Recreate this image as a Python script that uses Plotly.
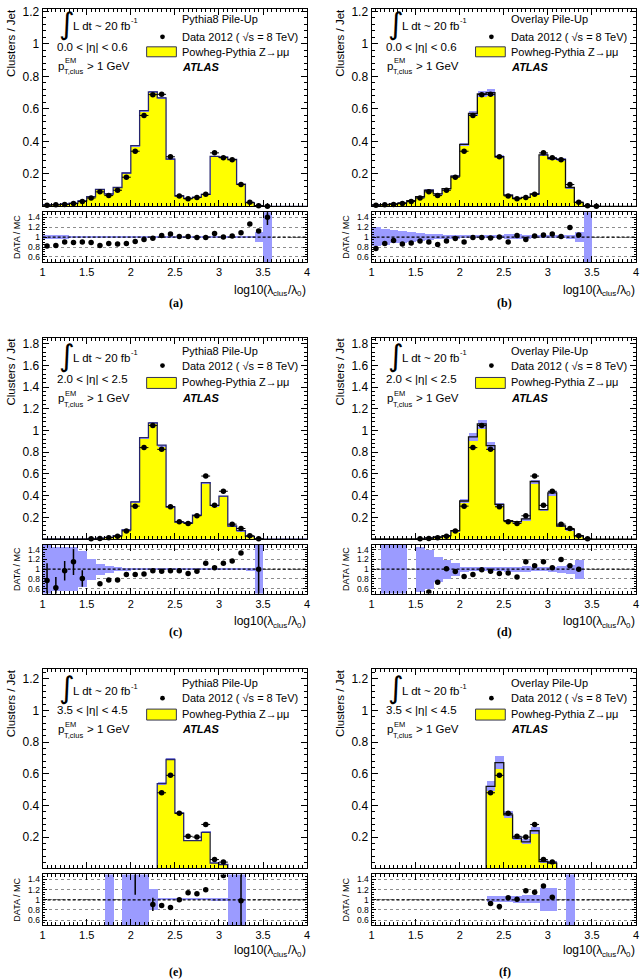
import plotly.graph_objects as go

W, H = 643, 979
N = None

# ---- binning (30 bins of 0.1 from 1 to 4) ----
bin_edges = [1.0, 1.1, 1.2, 1.3, 1.4, 1.5, 1.6, 1.7, 1.8, 1.9, 2.0, 2.1, 2.2, 2.3, 2.4, 2.5,
             2.6, 2.7, 2.8, 2.9, 3.0, 3.1, 3.2, 3.3, 3.4, 3.5, 3.6, 3.7, 3.8, 3.9, 4.0]
bin_centers = [1.05, 1.15, 1.25, 1.35, 1.45, 1.55, 1.65, 1.75, 1.85, 1.95, 2.05, 2.15, 2.25, 2.35, 2.45,
               2.55, 2.65, 2.75, 2.85, 2.95, 3.05, 3.15, 3.25, 3.35, 3.45, 3.55, 3.65, 3.75, 3.85, 3.95]

# ---- 0.0 < |eta| < 0.6 ----
data_central = [0.008, 0.010, 0.013, 0.018, 0.031, 0.052, 0.090, 0.067, 0.100, 0.180,
                0.340, 0.560, 0.688, 0.690, 0.306, 0.065, 0.047, 0.055, 0.075, 0.330,
                0.300, 0.288, 0.135, 0.026, 0.005, 0.002, N, N, N, N]
mc_pythia_central = [0.010, 0.012, 0.015, 0.020, 0.035, 0.060, 0.105, 0.077, 0.117, 0.206,
                     0.375, 0.590, 0.705, 0.668, 0.292, 0.065, 0.050, 0.058, 0.075, 0.308,
                     0.303, 0.289, 0.137, 0.024, 0.005, 0.001, 0, 0, 0, 0]
band_pythia_central = [0.045, 0.045, 0.045, 0.015, 0.015, 0.008, 0.008, 0.008, 0.008, 0.008,
                       0.008, 0.008, 0.008, 0.008, 0.008, 0.008, 0.008, 0.008, 0.008, 0.008,
                       0.008, 0.008, 0.008, 0.02, 0.1, 0.7, 0, 0, 0, 0]
ratio_pythia_central = [0.82, 0.83, 0.90, 0.89, 0.90, 0.89, 0.83, 0.87, 0.86, 0.87,
                        0.91, 0.95, 0.975, 1.03, 1.06, 1.01, 1.01, 0.99, 0.99, 1.07,
                        1.00, 1.02, 1.085, 1.26, 1.12, 1.40, N, N, N, N]
ratio_err_pythia_central = [0, 0, 0, 0, 0, 0, 0, 0, 0, 0, 0, 0, 0, 0, 0,
                            0, 0, 0, 0, 0, 0, 0, 0, 0, 0.04, 0.16, 0, 0, 0, 0]
mc_overlay_central = [0.010, 0.012, 0.016, 0.022, 0.036, 0.060, 0.100, 0.078, 0.110, 0.187,
                      0.382, 0.572, 0.692, 0.700, 0.306, 0.070, 0.050, 0.056, 0.078, 0.318,
                      0.295, 0.290, 0.117, 0.025, 0.004, 0.001, 0, 0, 0, 0]
band_overlay_central = [0.19, 0.16, 0.13, 0.12, 0.10, 0.08, 0.06, 0.05, 0.04, 0.04,
                        0.03, 0.03, 0.03, 0.03, 0.03, 0.05, 0.05, 0.04, 0.03, 0.03,
                        0.03, 0.03, 0.04, 0.10, 0.7, 0, 0, 0, 0, 0]
ratio_overlay_central = [0.77, 0.87, 0.93, 0.86, 0.88, 0.92, 0.90, 0.85, 0.92, 0.97,
                         0.90, 0.99, 0.99, 0.98, 1.00, 0.90, 1.03, 0.95, 1.02, 1.04,
                         1.06, 1.01, 1.19, 1.04, N, N, N, N, N, N]
ratio_err_overlay_central = [0, 0, 0, 0, 0, 0, 0, 0, 0, 0, 0, 0, 0, 0, 0,
                             0, 0, 0, 0, 0, 0, 0, 0, 0, 0, 0, 0, 0, 0, 0]

# ---- 2.0 < |eta| < 2.5 ----
data_mid = [0.001, 0.001, 0.001, 0.001, 0.001, 0.002, 0.005, 0.012, 0.025, 0.075,
            0.303, 0.842, 1.046, 0.826, 0.297, 0.160, 0.144, 0.214, 0.580, 0.310,
            0.440, 0.137, 0.097, 0.030, 0.003, N, N, N, N, N]
mc_pythia_mid = [0.002, 0.002, 0.002, 0.002, 0.002, 0.003, 0.008, 0.015, 0.030, 0.085,
                 0.343, 0.934, 1.070, 0.864, 0.297, 0.156, 0.150, 0.220, 0.520, 0.310,
                 0.395, 0.120, 0.078, 0.025, 0.004, 0, 0, 0, 0, 0]
band_pythia_mid = [0.5, 0.45, 0.45, 0.45, 0.37, 0.22, 0.12, 0.07, 0.04, 0.03,
                   0.01, 0.01, 0.01, 0.01, 0.01, 0.01, 0.01, 0.01, 0.01, 0.01,
                   0.01, 0.01, 0.01, 0.03, 0.7, 0, 0, 0, 0, 0]
ratio_pythia_mid = [0.77, 0.62, 0.97, 1.15, 0.81, N, 0.70, 0.78, 0.78, 0.89,
                    0.89, 0.90, 0.97, 0.96, 0.97, 0.97, 0.91, 0.96, 1.12, 1.03,
                    1.12, 1.17, 1.33, N, 1.00, N, N, N, N, N]
ratio_err_pythia_mid = [0.35, 0.22, 0.20, 0.27, 0.17, 0, 0, 0, 0, 0, 0, 0, 0, 0, 0,
                        0, 0, 0, 0, 0, 0, 0, 0, 0, 0.6, 0, 0, 0, 0, 0]
mc_overlay_mid = [0.002, 0.002, 0.002, 0.002, 0.002, 0.003, 0.010, 0.020, 0.032, 0.078,
                  0.350, 0.940, 1.060, 0.860, 0.320, 0.170, 0.160, 0.185, 0.530, 0.270,
                  0.425, 0.120, 0.090, 0.030, 0.003, 0, 0, 0, 0, 0]
band_overlay_mid = [0, 0.7, 0.7, 0.7, 0, 0.46, 0.40, 0.25, 0.20, 0.13,
                    0.05, 0.04, 0.04, 0.04, 0.04, 0.05, 0.05, 0.06, 0.04, 0.04,
                    0.05, 0.08, 0.10, 0.20, 0, 0, 0, 0, 0, 0]
ratio_overlay_mid = [N, N, N, N, N, N, 0.53, 0.73, 1.01, 0.95,
                     0.85, 0.89, 0.99, 0.96, 0.91, 0.92, 0.84, 1.15, 1.07, 1.15,
                     1.03, 1.20, 1.07, 1.00, N, N, N, N, N, N]
ratio_err_overlay_mid = [0, 0, 0, 0, 0, 0, 0, 0, 0, 0, 0, 0, 0, 0, 0,
                         0, 0, 0, 0, 0, 0, 0, 0, 0, 0, 0, 0, 0, 0, 0]

# ---- 3.5 < |eta| < 4.5 ----
data_fwd = [0, N, 0, 0, 0, N, N, N, 0, 0,
            0, 0, 0, 0.480, 0.590, 0.350, 0.205, 0.200, 0.280, 0.058,
            0.042, 0, 0, 0, N, N, N, N, N, N]
mc_pythia_fwd = [0, 0, 0, 0, 0, 0, 0, 0, 0, 0,
                 0, 0, 0, 0.538, 0.690, 0.352, 0.178, 0.178, 0.230, 0.036,
                 0.027, 0, 0, 0, 0, 0, 0, 0, 0, 0]
band_pythia_fwd = [0, 0, 0, 0, 0, 0, 0, 0.7, 0, 0.7,
                   0.7, 0.7, 0.21, 0.01, 0.01, 0.01, 0.01, 0.01, 0.01, 0.03,
                   0.03, 0.7, 0.7, 0, 0, 0, 0, 0, 0, 0]
ratio_pythia_fwd = [N, N, N, N, N, N, N, N, N, N,
                    1.6, N, 0.91, 0.89, 0.85, 1.00, 1.14, 1.12, 1.20, N,
                    1.48, N, 0.98, N, N, N, N, N, N, N]
ratio_err_pythia_fwd = [0, 0, 0, 0, 0, 0, 0, 0, 0, 0, 0.5, 0, 0.13, 0, 0,
                        0, 0, 0, 0, 0, 0, 0, 0.6, 0, 0, 0, 0, 0, 0, 0]
mc_overlay_fwd = [0, 0, 0, 0, 0, 0, 0, 0, 0, 0,
                  0, 0, 0, 0.520, 0.670, 0.340, 0.193, 0.170, 0.240, 0.046,
                  0.036, 0, 0, 0, 0, 0, 0, 0, 0, 0]
band_overlay_fwd = [0, 0, 0, 0, 0, 0, 0, 0, 0, 0,
                    0, 0, 0, 0.06, 0.06, 0.06, 0.07, 0.08, 0.08, 0.23,
                    0.23, 0, 0.7, 0, 0, 0, 0, 0, 0, 0]
ratio_overlay_fwd = [N, N, N, N, N, N, N, N, N, N,
                     N, N, N, 0.93, 0.87, 1.04, 1.01, 1.18, 1.15, 1.27,
                     1.05, N, N, N, N, N, N, N, N, N]
ratio_err_overlay_fwd = [0, 0, 0, 0, 0, 0, 0, 0, 0, 0, 0, 0, 0, 0, 0,
                         0, 0, 0, 0, 0, 0, 0, 0, 0, 0, 0, 0, 0, 0, 0]

panels = [
    dict(label="(a)", pu="Pythia8 Pile-Up", eta="0.0 < |η| < 0.6", data=data_central, mc=mc_pythia_central,
         band=band_pythia_central, ratio=ratio_pythia_central, rerr=ratio_err_pythia_central, ymax=1.215,
         outline="#26266e"),
    dict(label="(b)", pu="Overlay Pile-Up", eta="0.0 < |η| < 0.6", data=data_central, mc=mc_overlay_central,
         band=band_overlay_central, ratio=ratio_overlay_central, rerr=ratio_err_overlay_central, ymax=1.215,
         outline="#111111"),
    dict(label="(c)", pu="Pythia8 Pile-Up", eta="2.0 < |η| < 2.5", data=data_mid, mc=mc_pythia_mid,
         band=band_pythia_mid, ratio=ratio_pythia_mid, rerr=ratio_err_pythia_mid, ymax=1.855,
         outline="#26266e"),
    dict(label="(d)", pu="Overlay Pile-Up", eta="2.0 < |η| < 2.5", data=data_mid, mc=mc_overlay_mid,
         band=band_overlay_mid, ratio=ratio_overlay_mid, rerr=ratio_err_overlay_mid, ymax=1.855,
         outline="#111111"),
    dict(label="(e)", pu="Pythia8 Pile-Up", eta="3.5 < |η| < 4.5", data=data_fwd, mc=mc_pythia_fwd,
         band=band_pythia_fwd, ratio=ratio_pythia_fwd, rerr=ratio_err_pythia_fwd, ymax=1.26,
         outline="#26266e"),
    dict(label="(f)", pu="Overlay Pile-Up", eta="3.5 < |η| < 4.5", data=data_fwd, mc=mc_overlay_fwd,
         band=band_overlay_fwd, ratio=ratio_overlay_fwd, rerr=ratio_err_overlay_fwd, ymax=1.26,
         outline="#111111"),
]

# ---- layout geometry (pixels) ----
col_x = [(40, 307), (372, 639)]
row_main = [(5, 203), (335, 537), (668, 868)]
row_ratio = [(209, 259), (543, 592), (874, 925)]
row_text = [
    dict(integ=20, ldt=22, eta=43, pt=62, leg=[15, 33, 48, 63], box=(43, 53), xt=287, lab=300),
    dict(integ=353, ldt=355, eta=377, pt=396, leg=[348, 363, 380, 396], box=(375, 386), xt=620, lab=631),
    dict(integ=686, ldt=690, eta=709, pt=728, leg=[682, 697, 713, 728], box=(708, 719), xt=950, lab=972),
]

YELLOW = "#ffff00"
BAND = "#9b9bff"
FONT = "Liberation Sans, Arial, Helvetica, sans-serif"
SERIF = "Liberation Serif, Times New Roman, serif"


def xd(a, b):
    return [a / W, b / W]


def yd(top, bot):
    return [1 - bot / H, 1 - top / H]


def ann(text, x, y, size, xanchor="left", yanchor="middle", family=FONT, weight="normal", style="normal", **kw):
    return dict(text=text, x=x / W, y=1 - y / H, xref="paper", yref="paper", showarrow=False,
                xanchor=xanchor, yanchor=yanchor, borderpad=0, borderwidth=0,
                font=dict(size=size, family=family, color="black", weight=weight, style=style), **kw)


fig = go.Figure()
layout = dict(width=W, height=H, margin=dict(l=0, r=0, t=0, b=0), paper_bgcolor="white",
              plot_bgcolor="white", showlegend=False, barmode="overlay", bargap=0,
              font=dict(family=FONT, color="black", size=11))
annotations = []
shapes = []

axis_common = dict(showline=True, mirror="allticks", linecolor="black", linewidth=1, ticks="inside",
                   tickcolor="black", showgrid=False, zeroline=False)

for k, p in enumerate(panels):
    col, row = k % 2, k // 2
    mid, rid = 2 * k + 1, 2 * k + 2
    mx = "x" if mid == 1 else f"x{mid}"
    my = "y" if mid == 1 else f"y{mid}"
    rx, ry = f"x{rid}", f"y{rid}"
    mxa = "xaxis" if mid == 1 else f"xaxis{mid}"
    mya = "yaxis" if mid == 1 else f"yaxis{mid}"
    rxa, rya = f"xaxis{rid}", f"yaxis{rid}"
    x0, x1 = col_x[col]
    mt, mb = row_main[row]
    rt, rb = row_ratio[row]

    mc = p["mc"]
    band = p["band"]

    # main: yellow histogram
    fig.add_trace(go.Bar(x=bin_centers, y=mc, width=0.1, marker=dict(color=YELLOW, line=dict(width=0)),
                         xaxis=mx, yaxis=my))
    # uncertainty band
    fig.add_trace(go.Bar(x=bin_centers, y=[2 * e * m for e, m in zip(band, mc)],
                         base=[(1 - e) * m for e, m in zip(band, mc)], width=0.1,
                         marker=dict(color=BAND, line=dict(width=0)), xaxis=mx, yaxis=my))
    # outline
    fig.add_trace(go.Scatter(x=bin_edges, y=list(mc) + [mc[-1]], mode="lines", line_shape="hv",
                             line=dict(color=p["outline"], width=1.3), xaxis=mx, yaxis=my))
    # data
    fig.add_trace(go.Scatter(x=bin_centers, y=p["data"], mode="markers", cliponaxis=False,
                             marker=dict(color="black", size=5.5),
                             error_x=dict(type="constant", value=0.05, width=0, thickness=1, color="black"),
                             xaxis=mx, yaxis=my))

    # ratio band
    fig.add_trace(go.Bar(x=bin_centers, y=[2 * e for e in band], base=[1 - e for e in band], width=0.1,
                         marker=dict(color=BAND, line=dict(width=0)), xaxis=rx, yaxis=ry))
    # ratio points
    fig.add_trace(go.Scatter(x=bin_centers, y=p["ratio"], mode="markers",
                             marker=dict(color="black", size=5.5),
                             error_y=dict(type="data", array=p["rerr"], width=0, thickness=1.5, color="black"),
                             xaxis=rx, yaxis=ry))

    layout[mxa] = dict(axis_common, domain=xd(x0, x1), anchor=my, range=[1, 4], showticklabels=False,
                       tick0=1, dtick=0.5, ticklen=6,
                       minor=dict(ticks="inside", ticklen=3, tick0=1, dtick=0.05, tickcolor="black"))
    layout[mya] = dict(axis_common, domain=yd(mt, mb), anchor=mx, range=[0.002, p["ymax"]],
                       tick0=0, dtick=0.2, ticklen=6, tickfont=dict(size=12, family=FONT),
                       minor=dict(ticks="inside", ticklen=3, tick0=0, dtick=0.04, tickcolor="black"))
    layout[rxa] = dict(axis_common, domain=xd(x0, x1), anchor=ry, range=[1, 4], tick0=1, dtick=0.5,
                       ticklen=6, tickfont=dict(size=11, family=FONT),
                       minor=dict(ticks="inside", ticklen=3, tick0=1, dtick=0.05, tickcolor="black"))
    layout[rya] = dict(axis_common, domain=yd(rt, rb), anchor=rx, range=[0.5, 1.5], tick0=0.6, dtick=0.2,
                       ticklen=4, tickfont=dict(size=8.5, family=FONT), showgrid=True, gridcolor="#8c8c8c",
                       griddash="dot", gridwidth=1,
                       minor=dict(ticks="inside", ticklen=2, tick0=0.5, dtick=0.05, tickcolor="black"))

    shapes.append(dict(type="line", xref=rx, yref=ry, x0=1, x1=4, y0=1, y1=1,
                       line=dict(color="black", width=1.3, dash="3px,2px")))

    # ---- texts ----
    t = row_text[row]
    annotations.append(ann("∫", x0 + 25, t["integ"], 30, xanchor="center", family="DejaVu Sans"))
    annotations.append(ann("L dt ~ 20 fb", x0 + 31, t["ldt"], 11.5))
    annotations.append(ann("-1", x0 + 89, t["ldt"] - 5, 7.5))
    annotations.append(ann(p["eta"], x0 + 15, t["eta"], 11.5))
    annotations.append(ann("p", x0 + 16, t["pt"], 11.5))
    annotations.append(ann("EM", x0 + 23, t["pt"] - 5, 7.5))
    annotations.append(ann("T,clus", x0 + 22, t["pt"] + 6, 7.5))
    annotations.append(ann("> 1 GeV", x0 + 45, t["pt"], 11.5))

    lx = x0 + 141
    annotations.append(ann(p["pu"], lx, t["leg"][0], 11))
    annotations.append(ann("Data 2012 ( √s = 8 TeV)", lx, t["leg"][1], 11))
    annotations.append(ann("Powheg-Pythia Z→μμ", lx, t["leg"][2], 11))
    annotations.append(ann("ATLAS", lx, t["leg"][3], 11, weight="bold", style="italic"))
    shapes.append(dict(type="circle", xref="paper", yref="paper",
                       x0=(x0 + 121 - 2.4) / W, x1=(x0 + 121 + 2.4) / W,
                       y0=1 - (t["leg"][1] + 2.4) / H, y1=1 - (t["leg"][1] - 2.4) / H,
                       fillcolor="black", line=dict(width=0)))
    shapes.append(dict(type="rect", xref="paper", yref="paper",
                       x0=(x0 + 105) / W, x1=(x0 + 135) / W,
                       y0=1 - t["box"][1] / H, y1=1 - t["box"][0] / H,
                       fillcolor=YELLOW, line=dict(color="#333355", width=1)))

    # x-axis title built from pieces (main text + subscripts)
    xa = x1 - 34
    yt = t["xt"]
    annotations.append(ann("log10(λ", xa, yt, 12, xanchor="right"))
    annotations.append(ann("clus", xa, yt + 4, 8))
    annotations.append(ann("/λ", xa + 14.5, yt, 12))
    annotations.append(ann("0", xa + 24, yt + 4, 8))
    annotations.append(ann(")", xa + 28.5, yt, 12))

    annotations.append(ann("Clusters / Jet", x0 - 32, mt, 11.5, xanchor="center", yanchor="top", textangle=-90))
    annotations.append(ann("DATA / MC", x0 - 26, (rt + rb) / 2, 9, xanchor="center", yanchor="middle",
                           textangle=-90))
    annotations.append(ann(p["label"], (x0 + x1) / 2 + 1, t["lab"], 12, xanchor="center",
                           family=SERIF, weight="bold"))

layout["annotations"] = annotations
layout["shapes"] = shapes
fig.update_layout(**layout)
fig.write_html("out.html", config={"displayModeBar": False},
               post_script="document.body.style.margin='0';document.body.style.overflow='hidden';")
